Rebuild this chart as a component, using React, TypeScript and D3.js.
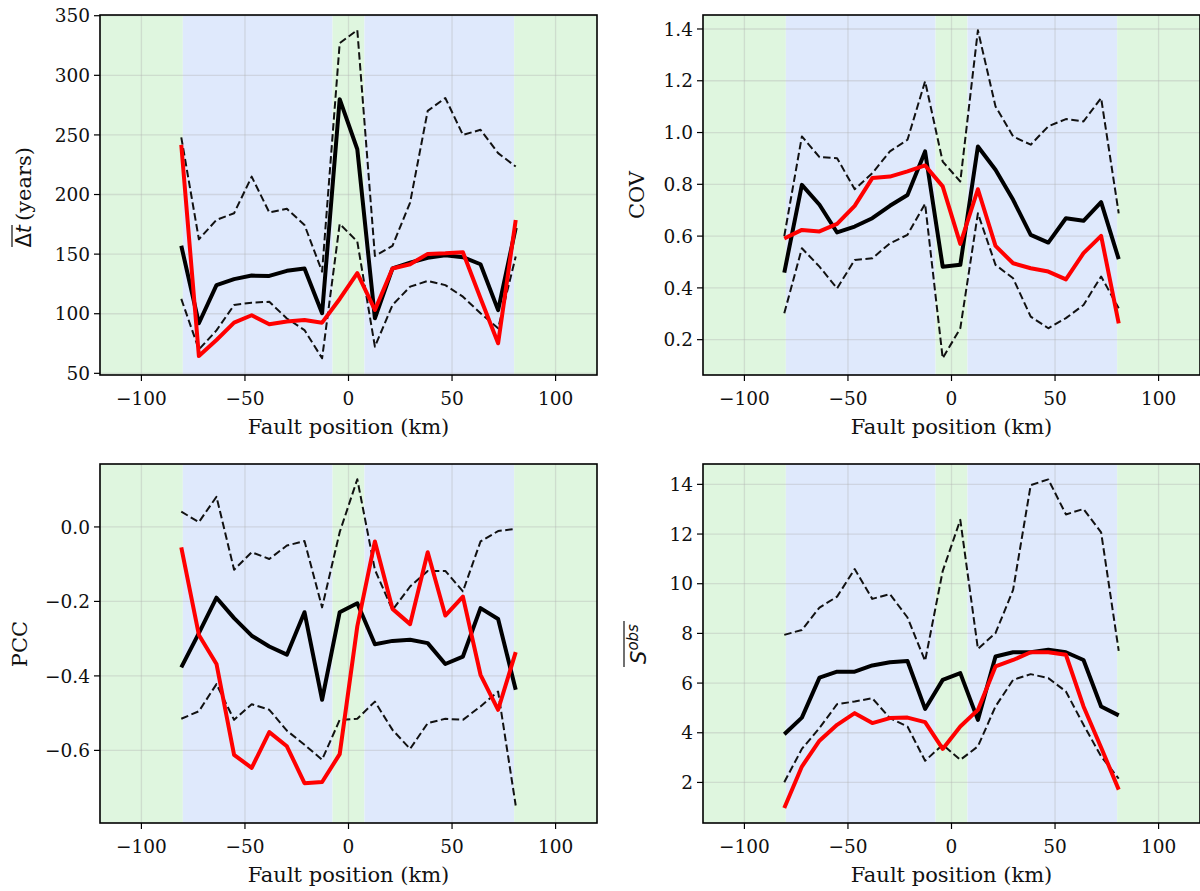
import * as d3 from 'd3'

// bin centres along the fault (km)
const positions = [-80.75, -72.25, -63.75, -55.25, -46.75, -38.25, -29.75, -21.25, -12.75, -4.25,
  4.25, 12.75, 21.25, 29.75, 38.25, 46.75, 55.25, 63.75, 72.25, 80.75]

// shaded zones: edges and which colour each interval gets
const zoneEdges = [-120, -80, -7.7, 7.7, 80, 120]
const zoneKinds = ['edge', 'segment', 'edge', 'segment', 'edge']
const xTicks = [-100, -50, 0, 50, 100]

// mean recurrence interval (years)
const dtMean = [157, 92, 124, 129, 132, 131.7, 136, 137.9, 100.4, 280, 238, 96.2, 138.1, 142.9, 147, 149, 147.4, 141.5, 103, 172]
const dtUpper = [248, 162.5, 178.7, 184.3, 215, 185, 188, 174.5, 135.3, 327, 338, 148.5, 156.9, 193.3, 270.2, 281, 250, 254.3, 234.7, 223.5]
const dtLower = [112.4, 70, 86, 107.3, 109.3, 110, 96, 86.3, 62.6, 175.4, 160.5, 72.4, 107.3, 122.7, 127.5, 124, 114.3, 100.4, 87.8, 148]
const dtObs = [241.7, 64.5, 78, 92.5, 98.7, 91.2, 93.4, 94.8, 92.5, 112.4, 134, 103.2, 137.9, 141.5, 150.2, 150.7, 151.6, 113, 75.2, 178.7]

// coefficient of variation
const covMean = [0.459, 0.798, 0.721, 0.614, 0.637, 0.669, 0.717, 0.759, 0.927, 0.482, 0.489, 0.946, 0.856, 0.74, 0.605, 0.575, 0.669, 0.659, 0.731, 0.511]
const covUpper = [0.6, 0.985, 0.905, 0.901, 0.781, 0.843, 0.927, 0.972, 1.198, 0.888, 0.811, 1.395, 1.101, 0.985, 0.953, 1.024, 1.052, 1.043, 1.133, 0.688]
const covLower = [0.302, 0.553, 0.482, 0.398, 0.508, 0.514, 0.572, 0.605, 0.725, 0.128, 0.244, 0.688, 0.489, 0.437, 0.289, 0.244, 0.283, 0.334, 0.444, 0.321]
const covObs = [0.591, 0.624, 0.618, 0.647, 0.717, 0.824, 0.83, 0.85, 0.873, 0.792, 0.57, 0.781, 0.562, 0.495, 0.476, 0.463, 0.433, 0.534, 0.601, 0.263]

// Pearson correlation coefficient
const pccMean = [-0.377, -0.285, -0.19, -0.245, -0.292, -0.321, -0.343, -0.229, -0.464, -0.229, -0.205, -0.315, -0.306, -0.303, -0.312, -0.368, -0.348, -0.218, -0.247, -0.437]
const pccUpper = [0.041, 0.013, 0.081, -0.115, -0.068, -0.086, -0.05, -0.038, -0.216, -0.014, 0.128, -0.115, -0.223, -0.16, -0.118, -0.118, -0.173, -0.039, -0.011, -0.005]
const pccLower = [-0.515, -0.495, -0.422, -0.518, -0.476, -0.491, -0.547, -0.585, -0.625, -0.518, -0.515, -0.469, -0.545, -0.596, -0.527, -0.515, -0.518, -0.482, -0.442, -0.748]
const pccObs = [-0.055, -0.29, -0.368, -0.612, -0.647, -0.551, -0.589, -0.688, -0.685, -0.61, -0.267, -0.039, -0.22, -0.261, -0.068, -0.238, -0.187, -0.397, -0.491, -0.336]

// mean observed slip
const sMean = [3.94, 4.61, 6.22, 6.46, 6.46, 6.71, 6.84, 6.89, 4.96, 6.13, 6.4, 4.52, 7.07, 7.24, 7.24, 7.34, 7.24, 6.93, 5.06, 4.7]
const sUpper = [7.94, 8.14, 9.04, 9.48, 10.59, 9.39, 9.58, 8.64, 6.89, 10.51, 12.57, 7.38, 8.01, 9.75, 13.97, 14.2, 12.79, 13.01, 12.07, 7.3]
const sLower = [2.01, 3.35, 4.19, 5.15, 5.26, 5.39, 4.59, 4.25, 2.87, 3.52, 2.91, 3.45, 5.06, 6.13, 6.36, 6.2, 5.66, 4.32, 3.05, 2.15]
const sObs = [0.97, 2.64, 3.68, 4.32, 4.79, 4.39, 4.59, 4.61, 4.43, 3.35, 4.25, 4.92, 6.67, 6.93, 7.24, 7.24, 7.14, 5.06, 3.41, 1.71]

const zoneColor: Record<string, string> = { edge: '#dff6df', segment: '#dfe9fc' }
const tickFont = 18.5
const labelFont = 21

interface PanelProps {
  left: number
  top: number
  width: number
  height: number
  yDomain: [number, number]
  yTicks: number[]
  fmt: (v: number) => string
  mean: number[]
  upper: number[]
  lower: number[]
  obs: number[]
  ylabel: React.ReactNode
}

function Panel({ left, top, width, height, yDomain, yTicks, fmt, mean, upper, lower, obs, ylabel }: PanelProps) {
  const x = d3.scaleLinear().domain([-120, 120]).range([left, left + width])
  const y = d3.scaleLinear().domain(yDomain).range([top + height, top])
  const line = d3.line<number>().x((_, i) => x(positions[i])).y(d => y(d))
  const bottom = top + height

  return (
    <g>
      <defs>
        <clipPath id={`clip-${left}-${top}`}>
          <rect x={left} y={top} width={width} height={height} />
        </clipPath>
      </defs>
      {zoneKinds.map((k, i) => (
        <rect key={i} x={x(zoneEdges[i])} y={top} width={x(zoneEdges[i + 1]) - x(zoneEdges[i])} height={height} fill={zoneColor[k]} />
      ))}
      {/* grid */}
      {xTicks.map(t => (
        <line key={'gx' + t} x1={x(t)} x2={x(t)} y1={top} y2={bottom} stroke="#b0b0b0" strokeOpacity={0.35} strokeWidth={1.3} />
      ))}
      {yTicks.map(t => (
        <line key={'gy' + t} x1={left} x2={left + width} y1={y(t)} y2={y(t)} stroke="#b0b0b0" strokeOpacity={0.35} strokeWidth={1.3} />
      ))}
      <g clipPath={`url(#clip-${left}-${top})`} fill="none" strokeLinejoin="round">
        <path d={line(upper) ?? ''} stroke="#111" strokeWidth={2} strokeDasharray="7.5,3.5" />
        <path d={line(lower) ?? ''} stroke="#111" strokeWidth={2} strokeDasharray="7.5,3.5" />
        <path d={line(mean) ?? ''} stroke="#000" strokeWidth={4} />
        <path d={line(obs) ?? ''} stroke="#ff0000" strokeWidth={4} />
      </g>
      <rect x={left} y={top} width={width} height={height} fill="none" stroke="#000" strokeWidth={1.6} />
      {/* axes ticks */}
      {xTicks.map(t => (
        <g key={'tx' + t}>
          <line x1={x(t)} x2={x(t)} y1={bottom} y2={bottom + 6} stroke="#000" strokeWidth={1.2} />
          <text x={x(t)} y={bottom + 30} textAnchor="middle" fontSize={tickFont}>{d3.format('d')(t)}</text>
        </g>
      ))}
      {yTicks.map(t => (
        <g key={'ty' + t}>
          <line x1={left - 6} x2={left} y1={y(t)} y2={y(t)} stroke="#000" strokeWidth={1.2} />
          <text x={left - 10} y={y(t)} dy="0.36em" textAnchor="end" fontSize={tickFont}>{fmt(t)}</text>
        </g>
      ))}
      <text x={left + width / 2} y={bottom + 59} textAnchor="middle" fontSize={labelFont}>Fault position (km)</text>
      {ylabel}
    </g>
  )
}

export default function App() {
  const W = 497
  const H = 360
  const intFmt = d3.format('d')
  const oneDec = d3.format('.1f')
  return (
    <svg width={1200} height={891} style={{ position: 'absolute', left: 0, top: 0, background: '#fff' }}
      fontFamily="'DejaVu Serif', serif" fill="#111">
      <Panel left={100} top={15} width={W} height={H} yDomain={[48.6, 350.6]}
        yTicks={[50, 100, 150, 200, 250, 300, 350]} fmt={intFmt}
        mean={dtMean} upper={dtUpper} lower={dtLower} obs={dtObs}
        ylabel={
          <g transform="translate(31,195) rotate(-90)">
            <text x={-30} textAnchor="end" fontSize={labelFont} fontFamily="'DejaVu Sans', sans-serif">
              Δ<tspan fontStyle="italic">t</tspan>
            </text>
            <text x={-26} textAnchor="start" fontSize={labelFont}>(years)</text>
            <line x1={-52} x2={-30} y1={-19} y2={-19} stroke="#111" strokeWidth={1.2} />
          </g>
        } />
      <Panel left={703} top={15} width={W} height={H} yDomain={[0.0635, 1.454]}
        yTicks={[0.2, 0.4, 0.6, 0.8, 1.0, 1.2, 1.4]} fmt={oneDec}
        mean={covMean} upper={covUpper} lower={covLower} obs={covObs}
        ylabel={
          <text transform="translate(644,195) rotate(-90)" textAnchor="middle" fontSize={labelFont}>COV</text>
        } />
      <Panel left={100} top={464} width={W} height={359} yDomain={[-0.795, 0.169]}
        yTicks={[-0.6, -0.4, -0.2, 0.0]} fmt={oneDec}
        mean={pccMean} upper={pccUpper} lower={pccLower} obs={pccObs}
        ylabel={
          <text transform="translate(27,644) rotate(-90)" textAnchor="middle" fontSize={labelFont}>PCC</text>
        } />
      <Panel left={703} top={464} width={W} height={359} yDomain={[0.367, 14.82]}
        yTicks={[2, 4, 6, 8, 10, 12, 14]} fmt={intFmt}
        mean={sMean} upper={sUpper} lower={sLower} obs={sObs}
        ylabel={
          <g transform="translate(646,644) rotate(-90)">
            <text textAnchor="middle" fontSize={21} fontFamily="'DejaVu Sans', sans-serif" fontStyle="italic">
              S<tspan fontSize={15} dy={-8}>obs</tspan>
            </text>
            <line x1={-23} x2={23} y1={-22} y2={-22} stroke="#111" strokeWidth={1.2} />
          </g>
        } />
    </svg>
  )
}
